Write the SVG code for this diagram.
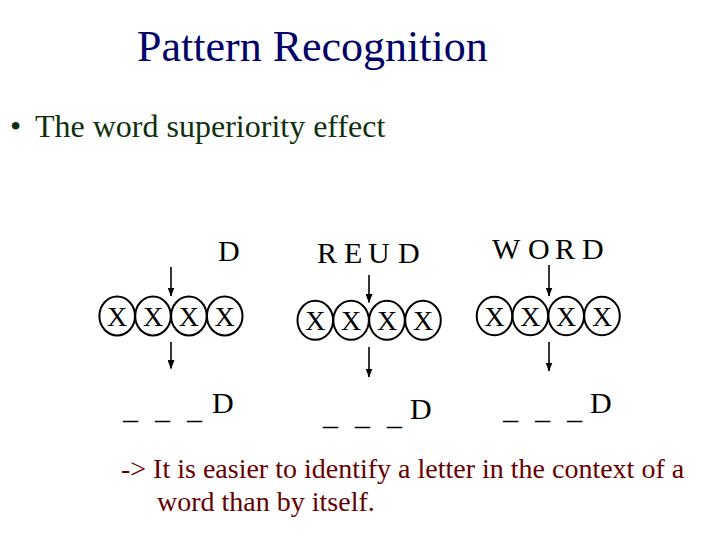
<svg xmlns="http://www.w3.org/2000/svg" width="720" height="540" viewBox="0 0 720 540">
<style>
text{font-family:"Liberation Serif","Times New Roman",serif}
.title{font-size:44px;fill:#000066}
.bullet{font-size:32px;fill:#0f2f0f}
.lbl{font-size:30px;fill:#000}
.x{font-size:28px;fill:#000;text-anchor:middle}
.note{font-size:28px;fill:#660000}
.c{fill:none;stroke:#000;stroke-width:2}
.arr{stroke:#000;stroke-width:1.6;marker-end:url(#ah)}
</style>
<defs>
<marker id="ah" viewBox="0 0 9 7" refX="8.5" refY="3.5" markerWidth="9" markerHeight="7" markerUnits="userSpaceOnUse" orient="auto">
<path d="M0,0 L9,3.5 L0,7 Z" fill="#000"/>
</marker>
</defs>
<rect width="720" height="540" fill="#fff"/>
<text class="title" x="137" y="61">Pattern Recognition</text>
<g id="bullet">
<text x="10" y="137" style="font-size:32px;fill:#0f2f0f">•</text>
<text class="bullet" x="35" y="137">The word superiority effect</text>
</g>
<g id="panel1">
<text class="lbl" x="218" y="261">D</text>
<g id="p1-circles">
<ellipse class="c" cx="117.2" cy="316" rx="17.8" ry="19.5"/>
<ellipse class="c" cx="153" cy="316" rx="17.8" ry="19.5"/>
<ellipse class="c" cx="188.9" cy="316" rx="17.8" ry="19.5"/>
<ellipse class="c" cx="224.7" cy="316" rx="17.8" ry="19.5"/>
<text class="x" x="117.2" y="325.5">X</text>
<text class="x" x="153" y="325.5">X</text>
<text class="x" x="188.9" y="325.5">X</text>
<text class="x" x="224.7" y="325.5">X</text>
</g>
<text class="lbl" x="123 141 155 173 187" y="419">_ _ _</text>
<text class="lbl" x="212" y="413">D</text>
</g>
<g id="panel2">
<text class="lbl" x="317 344 368 398" y="263">REUD</text>
<g id="p2-circles">
<ellipse class="c" cx="315.3" cy="320.3" rx="17.8" ry="19.5"/>
<ellipse class="c" cx="351.1" cy="320.3" rx="17.8" ry="19.5"/>
<ellipse class="c" cx="387" cy="320.3" rx="17.8" ry="19.5"/>
<ellipse class="c" cx="423" cy="320.3" rx="17.8" ry="19.5"/>
<text class="x" x="315.3" y="329.8">X</text>
<text class="x" x="351.1" y="329.8">X</text>
<text class="x" x="387" y="329.8">X</text>
<text class="x" x="423" y="329.8">X</text>
</g>
<text class="lbl" x="323 341 355 373 387" y="425">_ _ _</text>
<text class="lbl" x="410" y="419">D</text>
</g>
<g id="panel3">
<text class="lbl" x="492 528 555 582" y="259">WORD</text>
<g id="p3-circles">
<ellipse class="c" cx="494.5" cy="316" rx="17.8" ry="19.2"/>
<ellipse class="c" cx="530.3" cy="316" rx="17.8" ry="19.2"/>
<ellipse class="c" cx="566.2" cy="316" rx="17.8" ry="19.2"/>
<ellipse class="c" cx="602" cy="316" rx="17.8" ry="19.2"/>
<text class="x" x="494.5" y="325.5">X</text>
<text class="x" x="530.3" y="325.5">X</text>
<text class="x" x="566.2" y="325.5">X</text>
<text class="x" x="602" y="325.5">X</text>
</g>
<text class="lbl" x="503 521 535 553 567" y="419">_ _ _</text>
<text class="lbl" x="590" y="413">D</text>
</g>
<g id="connectors">
<line class="arr" x1="171" y1="267" x2="171" y2="296"/>
<line class="arr" x1="171" y1="342" x2="171" y2="368.5"/>
<line class="arr" x1="369" y1="275" x2="369" y2="302.5"/>
<line class="arr" x1="369" y1="347" x2="369" y2="377"/>
<line class="arr" x1="549" y1="265" x2="549" y2="296"/>
<line class="arr" x1="549" y1="342" x2="549" y2="371"/>
</g>
<g id="note">
<text class="note" x="121" y="478">-&gt; It is easier to identify a letter in the context of a</text>
<text class="note" x="157" y="511">word than by itself.</text>
</g>
</svg>
